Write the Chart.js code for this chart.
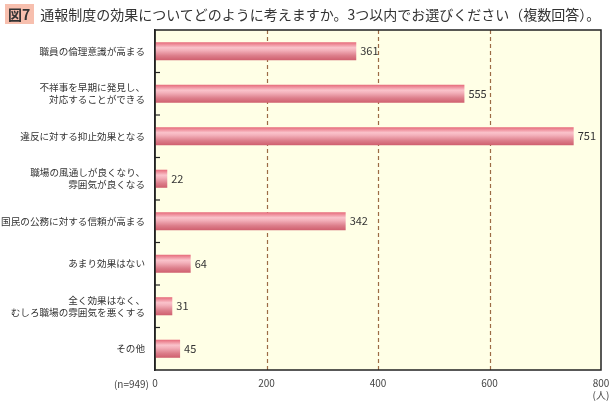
<!DOCTYPE html>
<html><head><meta charset="utf-8">
<script src="https://cdn.jsdelivr.net/npm/chart.js@4"></script>
<style>
html,body{margin:0;padding:0;background:#fff;}
#wrap{position:relative;width:614px;height:406px;}
#title{position:absolute;left:5px;top:4px;font-family:"Noto Sans CJK JP",sans-serif;font-size:14px;color:#333;white-space:nowrap;line-height:20px;}
#title .fig{background:#f7bfae;padding:0 4px 0 3px;margin-right:6px;font-weight:bold;}
canvas{position:absolute;left:0;top:0;}
</style></head>
<body><div id="wrap">
<canvas id="c" width="614" height="406"></canvas>
<div id="title"><span class="fig">図7</span>通報制度の効果についてどのように考えますか。3つ以内でお選びください（複数回答）。</div>
</div>
<script>
const categories = [
  "職員の倫理意識が高まる",
  ["不祥事を早期に発見し、","対応することができる"],
  "違反に対する抑止効果となる",
  ["職場の風通しが良くなり、","雰囲気が良くなる"],
  "国民の公務に対する信頼が高まる",
  "あまり効果はない",
  ["全く効果はなく、","むしろ職場の雰囲気を悪くする"],
  "その他"
];
const values = [361, 555, 751, 22, 342, 64, 31, 45];
const xTicks = [0, 200, 400, 600, 800];
const unitLabel = "(人)";
const nLabel = "(n=949)";

const FONT = '"Noto Sans CJK JP", sans-serif';

const bgPlugin = {
  id: 'bg',
  beforeDraw(chart) {
    const {ctx, chartArea: a} = chart;
    const x = chart.scales.x;
    ctx.save();
    ctx.fillStyle = '#ffffe6';
    ctx.fillRect(a.left, a.top, a.right - a.left, a.bottom - a.top);
    ctx.strokeStyle = '#9c6b45';
    ctx.lineWidth = 1.2;
    ctx.setLineDash([4, 3]);
    xTicks.slice(1, -1).forEach(v => {
      const px = Math.round(x.getPixelForValue(v)) + 0.5;
      ctx.beginPath();
      ctx.moveTo(px, a.top);
      ctx.lineTo(px, a.bottom);
      ctx.stroke();
    });
    ctx.restore();
  },
  afterDraw(chart) {
    const {ctx, chartArea: a} = chart;
    const y = chart.scales.y;
    ctx.save();
    ctx.strokeStyle = '#222';
    ctx.lineWidth = 1.5;
    ctx.strokeRect(a.left, a.top, a.right - a.left, a.bottom - a.top);
    ctx.lineWidth = 1.2;
    for (let i = 0; i < categories.length - 1; i++) {
      const p = (y.getPixelForValue(i) + y.getPixelForValue(i + 1)) / 2;
      ctx.beginPath();
      ctx.moveTo(a.left, p);
      ctx.lineTo(a.left + 5, p);
      ctx.stroke();
    }
    const meta = chart.getDatasetMeta(0);
    ctx.fillStyle = '#333';
    ctx.font = '11px ' + FONT;
    ctx.textBaseline = 'middle';
    ctx.textAlign = 'left';
    meta.data.forEach((bar, i) => {
      ctx.fillText(String(values[i]), bar.x + 4, bar.y);
    });
    ctx.font = '10px ' + FONT;
    ctx.textAlign = 'right';
    ctx.fillStyle = '#444';
    ctx.fillText(nLabel, a.left - 6, a.bottom + 14);
    ctx.restore();
  }
};

function barGradient(context) {
  const chart = context.chart;
  if (!chart.chartArea) return '#e07a88';
  const meta = chart.getDatasetMeta(0);
  const el = meta.data[context.dataIndex];
  let cy, h;
  if (el && el.height) { cy = el.y; h = el.height; }
  else { cy = chart.scales.y.getPixelForValue(context.dataIndex); h = 18; }
  const g = chart.ctx.createLinearGradient(0, cy - h / 2, 0, cy + h / 2);
  g.addColorStop(0, '#e66a7a');
  g.addColorStop(0.3, '#fac3cb');
  g.addColorStop(0.45, '#f3b0ba');
  g.addColorStop(0.75, '#dc7d8a');
  g.addColorStop(1, '#cf5f6e');
  return g;
}

new Chart(document.getElementById('c'), {
  type: 'bar',
  data: {
    labels: categories,
    datasets: [{
      data: values,
      backgroundColor: barGradient,
      borderWidth: 0,
      barPercentage: 0.85,
      categoryPercentage: 0.5
    }]
  },
  options: {
    indexAxis: 'y',
    responsive: false,
    animation: false,
    layout: { padding: { top: 30, right: 13, bottom: 0, left: 0 } },
    plugins: { legend: { display: false }, tooltip: { enabled: false } },
    scales: {
      x: {
        min: 0, max: 800,
        afterBuildTicks(s) { s.ticks = xTicks.map(v => ({ value: v })); },
        afterFit(s) { s.height = 36; s.paddingRight = 0; s.paddingLeft = 0; },
        border: { display: false },
        grid: { display: false, drawTicks: false },
        ticks: {
          padding: 7,
          maxRotation: 0,
          color: '#444',
          font: { family: FONT, size: 10 },
          callback: v => v === 800 ? [String(v), unitLabel] : String(v)
        }
      },
      y: {
        afterFit(s) { s.width = 155; },
        border: { display: true, color: '#222', width: 1.5 },
        grid: { display: false },
        ticks: {
          padding: 2,
          color: '#333',
          font: { family: FONT, size: 9.6, lineHeight: 1.25 }
        }
      }
    }
  },
  plugins: [bgPlugin]
});
</script>
</body></html>
